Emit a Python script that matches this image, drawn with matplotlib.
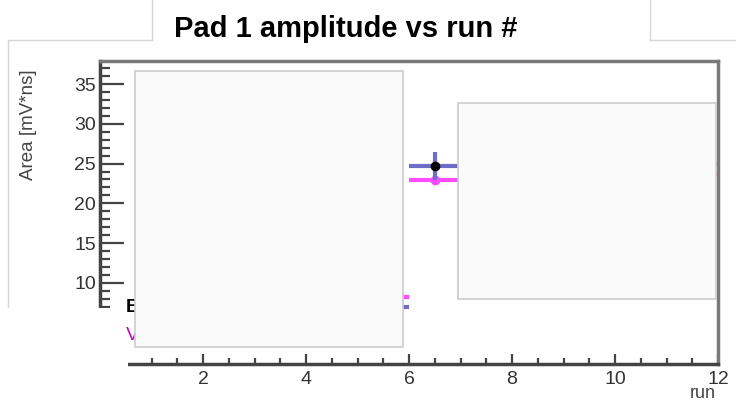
import matplotlib
matplotlib.use("Agg")
import matplotlib.pyplot as plt
from matplotlib.patches import Rectangle
from matplotlib.lines import Line2D
from matplotlib.ticker import MultipleLocator

# ---- data -------------------------------------------------------------
runs = [5.5, 6.5, 11.5]
run_half_width = [0.5, 0.5, 0.5]
area_blue = [7.0, 24.7, 25.0]
area_blue_err = [1.0, 1.8, 1.0]
area_magenta = [8.2, 22.9, 23.6]
area_magenta_err = [0.3, 0.3, 0.3]
x_ticks = [2, 4, 6, 8, 10, 12]
y_ticks = [10, 15, 20, 25, 30, 35]

W, H = 736, 401
plt.rcParams["font.family"] = ["Liberation Sans", "DejaVu Sans"]
fig = plt.figure(figsize=(W / 100, H / 100), dpi=100)


def fx(px):
    return px / W


def fy(py):
    return 1 - py / H


ax = fig.add_axes([fx(100), fy(364), fx(718) - fx(100), fy(61) - fy(364)])
ax.set_xlim(0, 12)
ax.set_ylim(-0.2, 37.9)

blue = "#6e6ec8"
magenta = "#ff4cff"
ax.errorbar(runs, area_blue, xerr=run_half_width, yerr=area_blue_err,
            fmt="o", color=blue, ecolor=blue, elinewidth=3, capsize=0,
            markersize=6, markerfacecolor="black", markeredgecolor="black",
            zorder=3)
ax.errorbar(runs, area_magenta, xerr=run_half_width, yerr=area_magenta_err,
            fmt="o", color=magenta, ecolor=magenta, elinewidth=3, capsize=0,
            markersize=6, markerfacecolor=magenta, markeredgecolor=magenta,
            zorder=2)

# axes frame and ticks
for side in ["left", "bottom"]:
    ax.spines[side].set_linewidth(2.5)
    ax.spines[side].set_color("#444444")
for side in ["top", "right"]:
    ax.spines[side].set_linewidth(2.5)
    ax.spines[side].set_color("#7a7a7a")

ax.set_xticks(x_ticks)
ax.set_yticks(y_ticks)
ax.xaxis.set_minor_locator(MultipleLocator(0.5))
ax.yaxis.set_minor_locator(MultipleLocator(1))
ax.tick_params(axis="y", which="major", direction="in", length=17, width=1.6,
               color="#444444", labelsize=14, labelcolor="#333333", pad=3)
ax.tick_params(axis="y", which="minor", direction="in", length=7, width=1.6,
               color="#444444")
ax.tick_params(axis="x", which="major", direction="in", length=7, width=1.6,
               color="#444444", labelsize=14, labelcolor="#333333", pad=5)
ax.tick_params(axis="x", which="minor", direction="in", length=4, width=1.6,
               color="#444444")

ax.set_ylabel("Area [mV*ns]", fontsize=13.5, color="#444444")
ax.yaxis.set_label_coords(fx(37 - 100) / (fx(718) - fx(100)), 0.79)
ax.set_xlabel("run", fontsize=13, color="#444444")
ax.xaxis.set_label_coords(0.997, -0.07)
ax.xaxis.label.set_horizontalalignment("right")

# title
fig.text(fx(346), fy(29), "Pad 1 amplitude vs run #", ha="center", va="center",
         fontsize=21, fontweight="bold", color="black")

# panel outlines around the canvas
edge = "#d6d6d6"
for xs, ys in [((8, 8), (40, 308)), ((8, 152), (40, 40)), ((152, 152), (0, 40)),
               ((650, 650), (0, 40)), ((650, 736), (40, 40))]:
    fig.add_artist(Line2D([fx(x) for x in xs], [fy(y) for y in ys],
                          color=edge, lw=1, zorder=1))

# blank corner over the lower left of the canvas
fig.add_artist(Rectangle((fx(0), fy(401)), fx(128), fy(308) - fy(401),
                         transform=fig.transFigure, facecolor="white",
                         edgecolor="none", zorder=2))

# legend entry letters
fig.text(fx(126), fy(307), "B", ha="left", va="center", fontsize=14,
         fontweight="bold", color="black", zorder=3)
fig.text(fx(126), fy(336), "V", ha="left", va="center", fontsize=14,
         color="#cc00cc", zorder=3)

# light panels on top of the canvas
for (x0, y0, x1, y1) in [(135, 71, 403, 347), (458, 103, 716, 299)]:
    fig.add_artist(Rectangle((fx(x0), fy(y1)), fx(x1) - fx(x0), fy(y0) - fy(y1),
                             transform=fig.transFigure, facecolor="#fafafa",
                             edgecolor="#cccccc", lw=1.2, zorder=4))

fig.savefig("out.png", dpi=100)
